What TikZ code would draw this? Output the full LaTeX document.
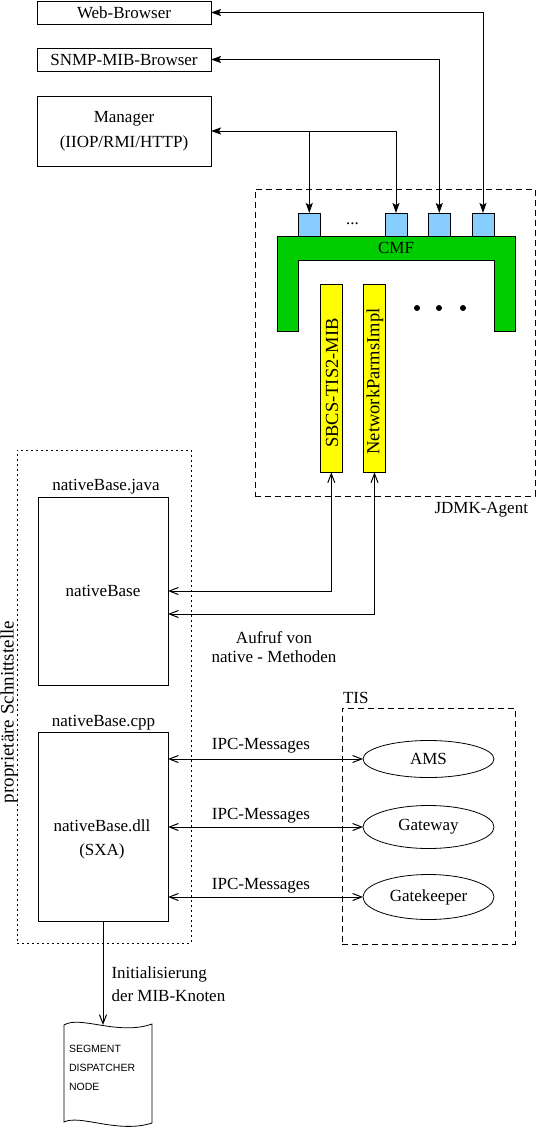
\documentclass[tikz,border=0pt]{standalone}
\usepackage{fontspec}
\setmainfont{Liberation Serif}
\newfontfamily\docfont{Liberation Sans}
\usetikzlibrary{arrows.meta,shapes.geometric}
\definecolor{cmfgreen}{RGB}{0,205,0}
\definecolor{portblue}{RGB}{135,206,255}
\definecolor{baryellow}{RGB}{255,255,0}
\begin{document}
\begin{tikzpicture}[x=1pt,y=-1pt,
  font=\fontsize{17}{20}\selectfont,
  every node/.style={inner sep=0pt,outer sep=0pt},
  lw/.style={line width=1pt},
  box/.style={draw,line width=1pt,minimum width=174pt},
  port/.style={draw,line width=1pt,fill=portblue,minimum width=22pt,minimum height=23pt},
  bar/.style={draw,line width=1pt,fill=baryellow,minimum width=22pt,minimum height=188pt},
  ell/.style={draw,ellipse,line width=0.8pt,minimum width=131pt},
  rottext/.style={rotate=90,font=\fontsize{18.5}{20}\selectfont},
  dashpat/.style={line width=1pt,dash pattern=on 6pt off 4pt},
  dotpat/.style={line width=1pt,dash pattern=on 2pt off 3pt},
  twofilled/.style={line width=1pt,{Stealth[length=10pt,width=7pt,inset=2pt]}-{Stealth[length=10pt,width=7pt,inset=2pt]}},
  onefilled/.style={line width=1pt,-{Stealth[length=10pt,width=7pt,inset=2pt]}},
  twoopen/.style={line width=1pt,{Straight Barb[length=9pt,width=7pt]}-{Straight Barb[length=9pt,width=7pt]}},
  oneopen/.style={line width=1pt,-{Straight Barb[length=9pt,width=7pt]}},
]
\useasboundingbox (0,0) rectangle (538,1128);

% top boxes
\node[box,minimum height=23pt] (web) at (124,12.5) {Web-Browser};
\node[box,minimum height=23pt] (snmp) at (124,59.5) {SNMP-MIB-Browser};
\node[box,minimum height=70pt,align=center,font=\fontsize{17}{25}\selectfont] (mgr) at (124,131) {Manager\\(IIOP/RMI/HTTP)};

% JDMK agent
\node[draw,dashpat,minimum width=280pt,minimum height=307pt] (jdmk) at (395,342.5) {};
\node[anchor=east] (jdmklabel) at (528,510) {JDMK-Agent};

\draw[fill=cmfgreen,line width=1pt] (277,236) -- (515,236) -- (515,331) -- (494,331) -- (494,260) -- (298,260) -- (298,331) -- (277,331) -- cycle;
\node (cmf) at (396,248) {CMF};

\node[port] (p1) at (309.3,224.5) {};
\node[port] (p2) at (396,224.5) {};
\node[port] (p3) at (439.3,224.5) {};
\node[port] (p4) at (483,224.5) {};
\node (pdots) at (352.5,224) {...};

\fill (417,308) circle[radius=3pt];
\fill (439,308) circle[radius=3pt];
\fill (463,308) circle[radius=3pt];

\node[bar] (b1) at (331.3,378.3) {};
\node[bar] (b2) at (374.5,378.3) {};
\node[rottext] (b1t) at (332,383) {SBCS-TIS2-MIB};
\node[rottext] (b2t) at (375,381.5) {NetworkParmsImpl};

\draw[twofilled] (web.east) -| (p4.north);
\draw[twofilled] (snmp.east) -| (p3.north);
\draw[twofilled] (mgr.east) -| (p2.north);
\draw[onefilled] (p1.north |- mgr.east) -- (p1.north);

% proprietary interface
\node[draw,dotpat,minimum width=174pt,minimum height=493pt] (prop) at (104,696.5) {};
\node[rotate=90,font=\fontsize{19}{20}\selectfont] (proplabel) at (9,712) {proprietäre Schnittstelle};

\node (ljava) at (106,487) {nativeBase.java};
\node[draw,lw,minimum width=130pt,minimum height=188pt] (nbj) at (103,591) {nativeBase};

\draw[twoopen] (b1.south) |- (nbj.east);
\draw[twoopen] (b2.south) |- ([yshift=-23pt]nbj.east);

\node[align=center,font=\fontsize{17}{19}\selectfont] (aufruf) at (274,647) {Aufruf von\\native - Methoden};

\node (lcpp) at (103.5,723) {nativeBase.cpp};
\node[draw,lw,minimum width=130pt,minimum height=189pt] (nbc) at (103,826.5) {};
\node[align=center,font=\fontsize{17}{24}\selectfont] (nbct) at (102,839) {nativeBase.dll\\(SXA)};

% TIS
\node[anchor=west] (tislabel) at (343,698) {TIS};
\node[draw,dashpat,minimum width=173pt,minimum height=236pt] (tis) at (428.5,826) {};
\node[ell,minimum height=37pt] (ams) at (428.5,759) {AMS};
\node[ell,minimum height=43pt] (gw) at (428.5,827) {Gateway};
\node[ell,minimum height=45pt] (gk) at (428.5,897) {Gatekeeper};

\draw[twoopen] (nbc.east |- ams.west) -- (ams.west);
\draw[twoopen] (nbc.east |- gw.west) -- (gw.west);
\draw[twoopen] (nbc.east |- gk.west) -- (gk.west);
\node (ipc1) at (261,746) {IPC-Messages};
\node (ipc2) at (261,816) {IPC-Messages};
\node (ipc3) at (261,886) {IPC-Messages};

% document
\draw[line width=0.8pt,fill=white] (64,1025) .. controls (80,1015) and (118,1036) .. (152,1024) -- (152,1123) .. controls (118,1134) and (80,1114) .. (64,1122) -- cycle;
\coordinate (doctop) at (103,1025);
\node[anchor=west,align=left,font=\docfont\fontsize{10.5}{19}\selectfont] (doc) at (69,1068) {SEGMENT\\DISPATCHER\\NODE};

\draw[oneopen] (nbc.south) -- (doctop);
\node[anchor=west,align=left,font=\fontsize{17}{23}\selectfont] (init) at (111.5,984.5) {Initialisierung\\der MIB-Knoten};
\end{tikzpicture}
\end{document}
